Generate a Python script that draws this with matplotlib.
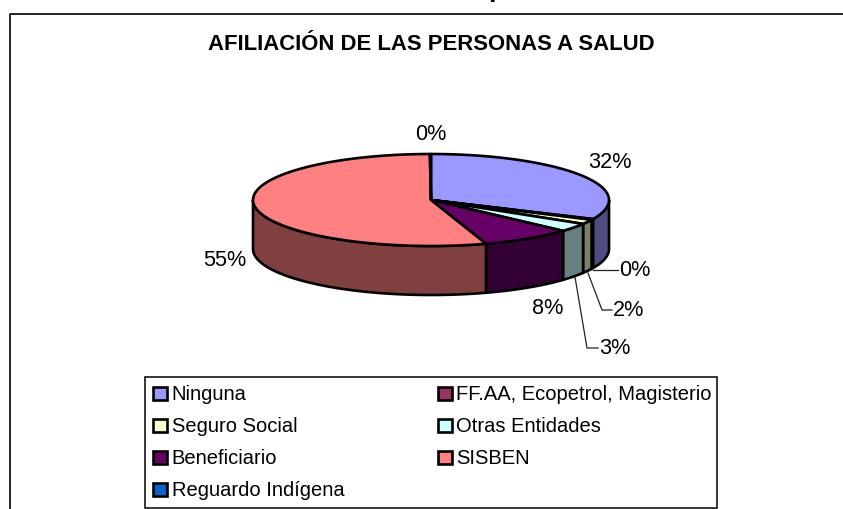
import numpy as np
import matplotlib
matplotlib.use('Agg')
import matplotlib.pyplot as plt
from matplotlib.patches import Polygon, Rectangle

plt.rcParams['font.family'] = ['Liberation Sans', 'DejaVu Sans']

# values in percent
categories = ['Ninguna', 'FF.AA, Ecopetrol, Magisterio', 'Seguro Social', 'Otras Entidades',
              'Beneficiario', 'SISBEN', 'Reguardo Indígena']
values = [31.8, 0.3, 1.6, 3.0, 8.3, 54.9, 0.1]
labels = ['32%', '0%', '2%', '3%', '8%', '55%', '0%']
colors = ['#9999FF', '#993366', '#FFFFCC', '#CCFFFF', '#660066', '#FF8080', '#0066CC']
sides = ['#4D4D80', '#4D1933', '#808066', '#668080', '#330033', '#804040', '#003366']

title = 'AFILIACIÓN DE LAS PERSONAS A SALUD'

cx, cy, rx, ry, depth = 431, 200, 178, 46, 49

fig = plt.figure(figsize=(8.43, 5.09), dpi=100)
ax = fig.add_axes([0, 0, 1, 1])
ax.set_xlim(0, 843)
ax.set_ylim(509, 0)
ax.axis('off')


def arc(a0, a1, n=120):
    # angles in degrees, clockwise from 12 o'clock
    t = np.radians(np.linspace(a0, a1, n))
    return cx + rx * np.sin(t), cy - ry * np.cos(t)


# chart frame, cut by the image on the right and at the bottom
ax.plot([9.5, 9.5, 850], [520, 13.5, 13.5], color='black', lw=1.2, zorder=1)
ax.text(497, -11, 'p', fontsize=20, fontweight='bold', ha='center', va='center', zorder=1)

ax.text(431, 44, title, fontsize=15.9, fontweight='bold', ha='center', va='center')

edges = np.cumsum([0] + values) * 3.6

# side walls first, only the front half of the pie shows them
for i in range(len(values)):
    a0, a1 = max(edges[i], 90), min(edges[i + 1], 270)
    if a1 <= a0:
        continue
    x, y = arc(a0, a1)
    pts = np.r_[np.c_[x, y], np.c_[x[::-1], y[::-1] + depth]]
    ax.add_patch(Polygon(pts, closed=True, fc=sides[i], ec='black', lw=1.9, joinstyle='round', zorder=2))

# top face
for i in range(len(values)):
    x, y = arc(edges[i], edges[i + 1])
    pts = np.r_[[[cx, cy]], np.c_[x, y]]
    ax.add_patch(Polygon(pts, closed=True, fc=colors[i], ec='black', lw=1.9, joinstyle='round', zorder=3))

# data labels
label_pos = [(610, 163), (635, 270), (629, 310), (615, 349), (548, 309), (225, 260), (431, 135)]
for lab, (x, y) in zip(labels, label_pos):
    ax.text(x, y, lab, fontsize=15.6, ha='center', va='center', zorder=5)

# leader lines
leaders = [([593, 618], [270, 270]),
           ([588, 602, 612], [273, 310, 310]),
           ([575, 587, 598], [277, 348, 348])]
for lx, ly in leaders:
    ax.plot(lx, ly, color='#222222', lw=0.9, zorder=4)

# legend box, filled row by row in two columns
ax.add_patch(Rectangle((145, 377), 572, 131, fc='white', ec='black', lw=1.1, zorder=2))
col_x = [153, 438]
row_y = [393, 425, 457, 489]
for i, (name, c) in enumerate(zip(categories, colors)):
    lx = col_x[i % 2]
    ly = row_y[i // 2]
    ax.add_patch(Rectangle((lx - 0.5, ly - 6.5), 14, 13, fc=c, ec='black', lw=1.9, zorder=3))
    ax.text(lx + 18.5, ly + 1, name, fontsize=14.5, ha='left', va='center', zorder=3)

fig.savefig('out.png', dpi=100)
